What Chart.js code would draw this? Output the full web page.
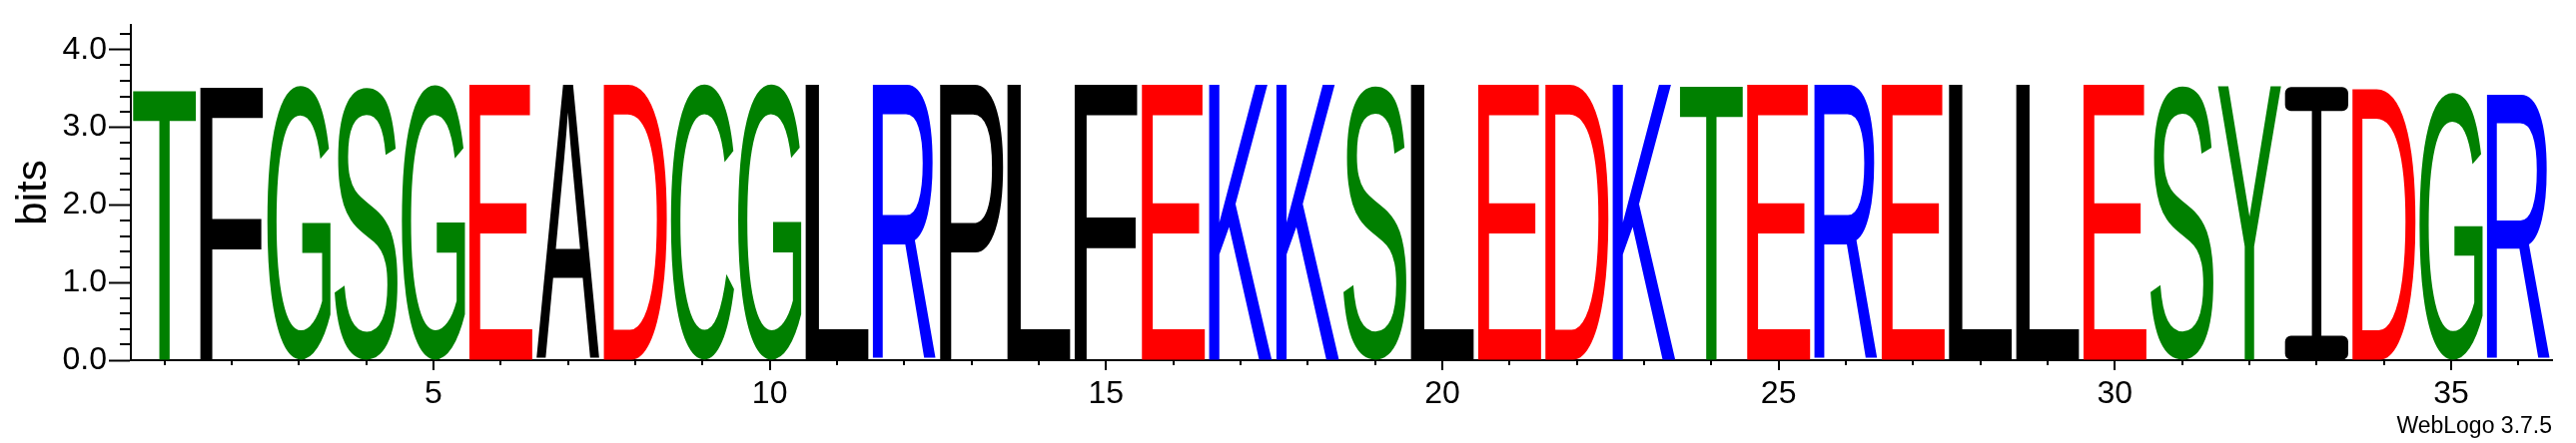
<!DOCTYPE html>
<html>
<head>
<meta charset="utf-8">
<script src="https://cdn.jsdelivr.net/npm/chart.js@4.4.1/dist/chart.umd.min.js"></script>
<style>
    html, body { margin: 0; padding: 0; background: #fff; }
    .logo { width: 2579px; height: 444px; }
</style>
</head>
<body>
<div class="logo"><canvas id="logo"></canvas></div>
<script>
const positions = [1, 2, 3, 4, 5, 6, 7, 8, 9, 10, 11, 12, 13, 14, 15, 16, 17, 18,
    19, 20, 21, 22, 23, 24, 25, 26, 27, 28, 29, 30, 31, 32, 33, 34, 35, 36];
const residues = ["T", "F", "G", "S", "G", "E", "A", "D", "C", "G", "L", "R",
    "P", "L", "F", "E", "K", "K", "S", "L", "E", "D", "K", "T",
    "E", "R", "E", "L", "L", "E", "S", "Y", "I", "D", "G", "R"];
const bits = [3.50, 3.52, 3.54, 3.54, 3.55, 3.56, 3.56, 3.56, 3.56, 3.56, 3.56, 3.56,
    3.56, 3.56, 3.56, 3.56, 3.56, 3.56, 3.56, 3.56, 3.56, 3.56, 3.56, 3.56,
    3.56, 3.56, 3.56, 3.56, 3.56, 3.56, 3.56, 3.54, 3.52, 3.50, 3.45, 3.43];
const yTicks = [0, 1, 2, 3, 4];

// weblogo "chemistry" colours
const residueColor = {
    G: "#008000", S: "#008000", T: "#008000", Y: "#008000", C: "#008000",
    K: "#0000ff", R: "#0000ff", H: "#0000ff",
    D: "#ff0000", E: "#ff0000"
};
const colorOf = r => residueColor[r] || "#000000";

/* буквы, растянутые на высоту столбика */
const letterPlugin = {
    id: "letters",
    afterDatasetsDraw(chart) {
        const ctx = chart.ctx;
        const meta = chart.getDatasetMeta(0);
        meta.data.forEach((bar, i) => {
            const {x, y, base, width} = bar.getProps(["x", "y", "base", "width"], true);
            const ch = residues[i];
            const h = base - y;
            const left = x - width / 2;
            ctx.save();
            ctx.fillStyle = colorOf(ch);
            if (ch === "I") {
                // weblogo I: stem with rounded serifs
                const serif = h * 0.088;
                const stem = width * 0.15;
                ctx.beginPath();
                ctx.roundRect(left, y, width, serif, 6);
                ctx.roundRect(left, base - serif, width, serif, 6);
                ctx.rect(x - stem / 2, y + serif - 1, stem, h - 2 * serif + 2);
                ctx.fill();
            } else {
                ctx.font = "200px 'Liberation Sans', Arial, sans-serif";
                ctx.textBaseline = "alphabetic";
                ctx.textAlign = "left";
                const m = ctx.measureText(ch);
                const inkW = m.actualBoundingBoxLeft + m.actualBoundingBoxRight;
                const inkH = m.actualBoundingBoxAscent + m.actualBoundingBoxDescent;
                ctx.translate(left, y);
                ctx.scale(width / inkW, h / inkH);
                ctx.fillText(ch, m.actualBoundingBoxLeft, m.actualBoundingBoxAscent);
            }
            ctx.restore();
        });
    }
};

/* мелкие засечки на осях */
const tickPlugin = {
    id: "minorTicks",
    afterDraw(chart) {
        const ctx = chart.ctx;
        const xs = chart.scales.x;
        const ys = chart.scales.y;
        const area = chart.chartArea;
        ctx.save();
        ctx.strokeStyle = "#000";
        ctx.lineWidth = 2;
        ctx.beginPath();
        positions.forEach((p, i) => {
            const px = Math.round(xs.getPixelForTick(i));
            const len = p % 5 === 0 ? 10 : 5;
            ctx.moveTo(px, area.bottom);
            ctx.lineTo(px, area.bottom + len);
        });
        for (let k = 0; k <= 21; k++) {
            if (k % 5 === 0) continue;
            const py = Math.round(ys.getPixelForValue(k / 5));
            ctx.moveTo(area.left, py);
            ctx.lineTo(area.left - 11, py);
        }
        ctx.stroke();
        ctx.restore();
    }
};

document.addEventListener("DOMContentLoaded", () => {
    const canvas = document.getElementById("logo");

    new Chart(canvas, {
        type: "bar",
        plugins: [letterPlugin, tickPlugin],
        data: {
            labels: positions,
            datasets: [{
                data: bits,
                backgroundColor: "rgba(0,0,0,0)",
                borderWidth: 0,
                barPercentage: 0.94,
                categoryPercentage: 1
            }]
        },
        options: {
            responsive: true,
            maintainAspectRatio: false,
            animation: false,
            devicePixelRatio: 1,
            layout: {
                padding: { top: 25, right: 24, left: 0, bottom: 0 }
            },
            plugins: {
                legend: { display: false },
                tooltip: { enabled: false }
            },
            scales: {
                x: {
                    type: "category",
                    offset: true,
                    grid: { display: false, drawTicks: false, offset: false },
                    border: { display: true, color: "#000", width: 2 },
                    ticks: {
                        autoSkip: false,
                        maxRotation: 0,
                        color: "#000",
                        padding: 15,
                        font: { family: "'Liberation Sans', Arial, sans-serif", size: 32 },
                        callback: (v, i) => positions[i] % 5 === 0 ? String(positions[i]) : ""
                    },
                    title: {
                        display: true,
                        text: "WebLogo 3.7.5",
                        align: "end",
                        color: "#000",
                        padding: { top: 0, bottom: 3 },
                        font: { family: "'Liberation Sans', Arial, sans-serif", size: 23 }
                    },
                    afterFit(scale) { scale.height = 83; }
                },
                y: {
                    type: "linear",
                    min: 0,
                    max: 4.32,
                    grid: {
                        drawOnChartArea: false,
                        drawTicks: true,
                        tickLength: 22,
                        tickWidth: 2,
                        tickColor: "#000"
                    },
                    border: { display: true, color: "#000", width: 2 },
                    afterBuildTicks(scale) {
                        scale.ticks = yTicks.map(v => ({ value: v }));
                    },
                    ticks: {
                        color: "#000",
                        padding: 2,
                        font: { family: "'Liberation Sans', Arial, sans-serif", size: 32 },
                        callback: v => Number(v).toFixed(1)
                    },
                    title: {
                        display: true,
                        text: "bits",
                        color: "#000",
                        padding: { top: 9, bottom: 0 },
                        font: { family: "'Liberation Sans', Arial, sans-serif", size: 42 }
                    },
                    afterFit(scale) { scale.width = 131; }
                }
            }
        }
    });
});
</script>
</body>
</html>
